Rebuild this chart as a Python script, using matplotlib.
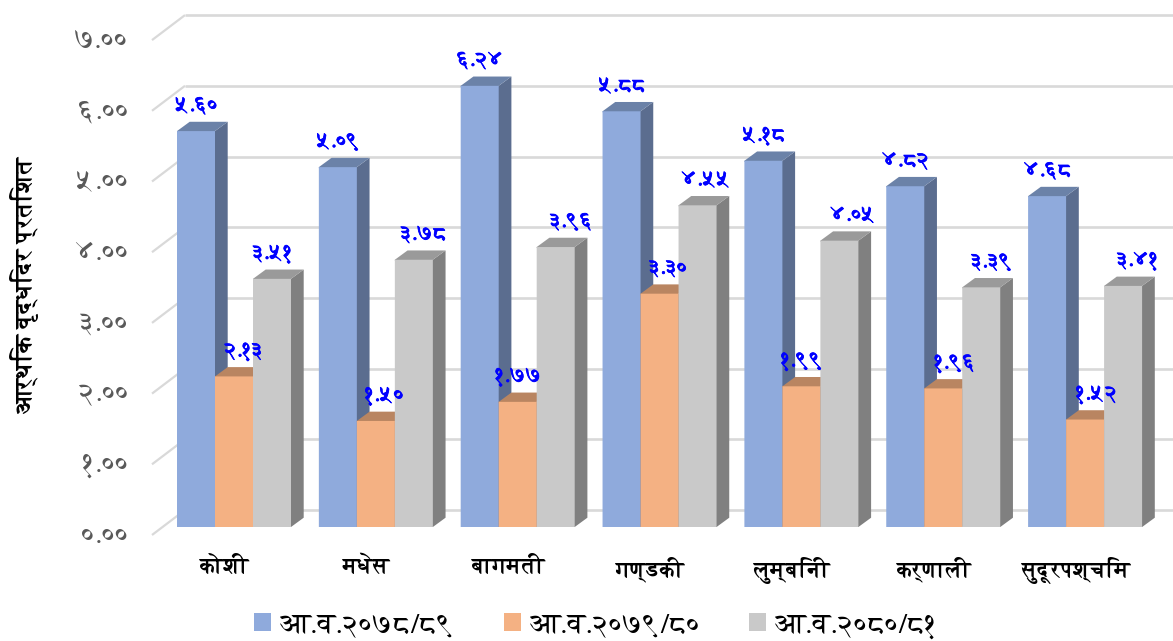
import matplotlib
matplotlib.use("Agg")
import matplotlib.pyplot as plt
import matplotlib.patheffects as pe
from matplotlib.patches import Polygon, Patch
from matplotlib.transforms import ScaledTranslation

W, H = 1173, 641
DEV = ['FreeSerif', 'Noto Serif Devanagari', 'DejaVu Sans']
plt.rcParams['font.family'] = DEV

# data
provinces = ['कोशी', 'मधेस', 'बागमती', 'गण्डकी', 'लुम्बिनी', 'कर्णाली', 'सुदूरपश्चिम']
series_names = ['आ.व.२०७८/८९', 'आ.व.२०७९/८०', 'आ.व.२०८०/८१']
fy_78 = [5.60, 5.09, 6.24, 5.88, 5.18, 4.82, 4.68]
fy_79 = [2.13, 1.50, 1.77, 3.30, 1.99, 1.96, 1.52]
fy_80 = [3.51, 3.78, 3.96, 4.55, 4.05, 3.39, 3.41]
y_ticks = [0, 1, 2, 3, 4, 5, 6, 7]
y_tick_labels = ['०.००', '१.००', '२.००', '३.००', '४.००', '५.००', '६.००', '७.००']
y_title = 'आर्थिक वृद्धिदर प्रतिशत'

# label nudges in px, the labels were moved by hand in the original
nudge_79 = [9, 8, 0, 8, 0, 11, 11]
nudge_80 = [0, 9, 15, 8, 13, 10, 14]

front = ['#8faadc', '#f4b183', '#c9c9c9']
top = ['#6b82a8', '#b98561', '#9a9a9a']
side = ['#5b6d8f', '#a5775a', '#808080']

# one group = 141.85 px, one unit = 70.7 px
px_x = 141.85
px_y = 70.7
left, right = 152, 1173
base = 527
x0 = 234
fig = plt.figure(figsize=(W / 100, H / 100), dpi=100)
ax = fig.add_axes([left / W, (H - base) / H, (right - left) / W, 7 * px_y / H])
ax.set_xlim((left - x0) / px_x, (right - x0) / px_x)
ax.set_ylim(0, 7)
ax.patch.set_visible(False)
for s in ax.spines.values():
    s.set_visible(False)

# back wall gridlines with the short diagonal on the left
grid_c = '#d9d9d9'
for v in y_ticks:
    ax.plot([(152 - x0) / px_x, (185 - x0) / px_x], [v - 8 / px_y, v + 17 / px_y],
            color=grid_c, lw=1.6, clip_on=False, zorder=1, solid_capstyle='butt')
    ax.plot([(185 - x0) / px_x, (right - x0) / px_x], [v + 17 / px_y, v + 17 / px_y],
            color=grid_c, lw=1.9, clip_on=False, zorder=1, solid_capstyle='butt')

bar_w = 38 / px_x
dx = 12.7 / px_x
dy = 9.3 / px_y
# top and side run 1 px under the front face so no seam shows
lap_x = 1 / px_x
lap_y = 1 / px_y
series = [fy_78, fy_79, fy_80]
nudges = [[0] * 7, nudge_79, nudge_80]

for i in range(len(provinces)):
    for j, vals in enumerate(series):
        v = vals[i]
        x = i + (j - 1) * bar_w
        z = 2 + i * 3 + j
        ax.bar(x, v, bar_w, color=front[j], edgecolor='none', zorder=z + 0.5, clip_on=False, snap=False)
        l, r = x - bar_w / 2, x + bar_w / 2
        ax.add_patch(Polygon([(r - lap_x, 0), (r - lap_x, v), (r, v), (r + dx, v + dy), (r + dx, dy), (r, 0)],
                             fc=side[j], ec='none', zorder=z + 0.2, clip_on=False))
        ax.add_patch(Polygon([(l, v - lap_y), (r, v - lap_y), (r, v), (r + dx, v + dy), (l + dx, v + dy), (l, v)],
                             fc=top[j], ec='none', zorder=z + 0.3, clip_on=False))

# data labels go on top of everything
for i in range(len(provinces)):
    for j, vals in enumerate(series):
        v = vals[i]
        x = i + (j - 1) * bar_w + (nudges[j][i] + 1) / px_x
        txt = f'{v:.2f}'.translate(str.maketrans('0123456789', '०१२३४५६७८९'))
        ax.text(x, v + 25 / px_y, txt, color='#0000ff', fontsize=16,
                ha='center', va='center', zorder=100, clip_on=False,
                path_effects=[pe.withStroke(linewidth=0.6, foreground='#0000ff')])

ax.set_yticks(y_ticks)
ax.set_yticklabels(y_tick_labels, color='#595959', fontsize=21)
ax.tick_params(axis='y', length=0, pad=16.5)
for t in ax.get_yticklabels():
    t.set_transform(t.get_transform() + ScaledTranslation(0, -6 / 100, fig.dpi_scale_trans))

ax.set_xticks(range(len(provinces)))
ax.set_xticklabels(provinces, color='#000000', fontsize=16, fontweight='bold')
ax.tick_params(axis='x', length=0, pad=21.5)
for t in ax.get_xticklabels():
    t.set_transform(t.get_transform() + ScaledTranslation(-9 / 100, 0, fig.dpi_scale_trans))

fig.text(25 / W, 1 - 285 / H, y_title, rotation=90, ha='center', va='center',
         fontsize=17.5, fontweight='bold', color='#000000')

handles = [Patch(fc=c, ec='none') for c in front]
fig.legend(handles, series_names, loc='center', bbox_to_anchor=(596 / W, 1 - 626 / H), ncol=3,
           frameon=False, fontsize=21, handlelength=0.583, handleheight=0.583, handletextpad=0.27,
           columnspacing=1.68, borderpad=0, labelcolor='#000000')

fig.savefig('out.png', dpi=100)
